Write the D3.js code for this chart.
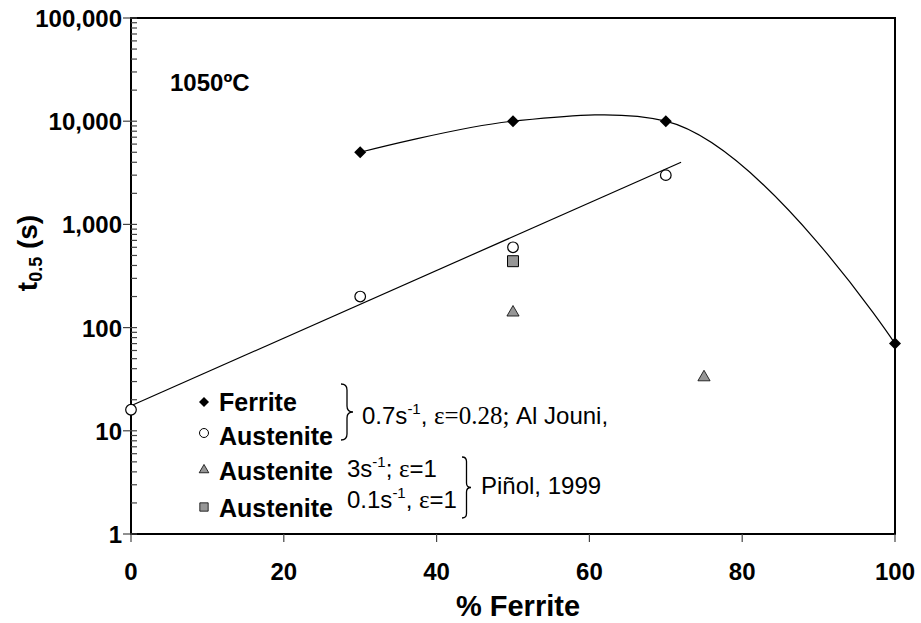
<!DOCTYPE html>
<html>
<head>
<meta charset="utf-8">
<script src="https://cdn.jsdelivr.net/npm/d3@7"></script>
<style>
  body { margin: 0; background: #fff; }
  text { font-family: "Liberation Sans", Arial, sans-serif; }
  tspan.serif { font-family: "Liberation Serif", "Times New Roman", serif; }
</style>
</head>
<body>
<script>
var width = 921,
  height = 623;

// data
var ferriteX = [30, 50, 70, 100];
var ferriteT = [5000, 10000, 10000, 70];
var austeniteX = [0, 30, 50, 70];
var austeniteT = [16, 200, 600, 3000];
var austeniteFitX = [0, 72];
var austeniteFitT = [17.5, 4000];
var pinolTriX = [50, 75];
var pinolTriT = [140, 33];
var pinolSqX = [50];
var pinolSqT = [440];

var xTicks = [0, 20, 40, 60, 80, 100];
var yTicks = [1, 10, 100, 1000, 10000, 100000];

var svg = d3.select("body").append("svg")
  .attr("width", width)
  .attr("height", height);

var x = d3.scaleLinear().domain([0, 100]).range([131, 895]);
var y = d3.scaleLog().domain([1, 100000]).range([534, 18]);

var zip = (xs, ys) => xs.map((v, i) => ({ x: v, t: ys[i] }));

// frame
svg.append("rect")
  .attr("x", x(0)).attr("y", y(100000))
  .attr("width", x(100) - x(0)).attr("height", y(1) - y(100000))
  .attr("fill", "none").attr("stroke", "#000").attr("stroke-width", 2);

// x axis ticks + labels
var xa = svg.append("g");
xa.selectAll("line").data(xTicks).enter().append("line")
  .attr("x1", d => x(d)).attr("x2", d => x(d))
  .attr("y1", y(1)).attr("y2", y(1) + 8)
  .attr("stroke", "#444").attr("stroke-width", 1.2);
xa.selectAll("text").data(xTicks).enter().append("text")
  .attr("x", d => x(d)).attr("y", 580)
  .attr("text-anchor", "middle")
  .attr("font-size", 24).attr("font-weight", "bold")
  .text(d => d);

// y axis ticks
var minor = [];
yTicks.slice(0, -1).forEach(d => { for (var k = 2; k < 10; k++) minor.push(d * k); });
var ya = svg.append("g");
ya.selectAll("line.minor").data(minor).enter().append("line")
  .attr("x1", x(0)).attr("x2", x(0) + 6)
  .attr("y1", d => y(d)).attr("y2", d => y(d))
  .attr("stroke", "#444").attr("stroke-width", 1.2);
ya.selectAll("line.major").data(yTicks).enter().append("line")
  .attr("x1", x(0) - 8).attr("x2", x(0) + 6)
  .attr("y1", d => y(d)).attr("y2", d => y(d))
  .attr("stroke", "#444").attr("stroke-width", 1.2);
ya.selectAll("text").data(yTicks).enter().append("text")
  .attr("x", 122).attr("y", d => y(d) + 9)
  .attr("text-anchor", "end")
  .attr("font-size", 24).attr("font-weight", "bold")
  .text(d => d3.format(",")(d));

// axis titles
svg.append("text")
  .attr("x", 518).attr("y", 616)
  .attr("text-anchor", "middle")
  .attr("font-size", 29).attr("font-weight", "bold")
  .text("% Ferrite");

var yt = svg.append("text")
  .attr("transform", "translate(37,253) rotate(-90)")
  .attr("text-anchor", "middle")
  .attr("font-size", 28).attr("font-weight", "bold");
yt.append("tspan").text("t");
yt.append("tspan").attr("font-size", 18).attr("dy", 5).text("0.5");
yt.append("tspan").attr("dy", -5).text(" (s)");

svg.append("text")
  .attr("x", 170).attr("y", 91)
  .attr("font-size", 24).attr("font-weight", "bold")
  .text("1050ºC");

// lines
var line = d3.line().x(d => x(d.x)).y(d => y(d.t));
svg.append("path")
  .datum(zip(austeniteFitX, austeniteFitT))
  .attr("d", line)
  .attr("fill", "none").attr("stroke", "#000").attr("stroke-width", 1.2);
svg.append("path")
  .datum(zip(ferriteX, ferriteT))
  .attr("d", line.curve(d3.curveCatmullRom.alpha(1)))
  .attr("fill", "none").attr("stroke", "#000").attr("stroke-width", 1.2);

// markers
var diamond = d3.symbol().type(d3.symbolSquare).size(72);
var tri = d3.symbol().type(d3.symbolTriangle).size(64);
var sq = d3.symbol().type(d3.symbolSquare).size(120);

svg.selectAll(".fer").data(zip(ferriteX, ferriteT)).enter().append("path")
  .attr("d", diamond)
  .attr("transform", d => `translate(${x(d.x)},${y(d.t)}) rotate(45)`)
  .attr("fill", "#000");
svg.selectAll(".aus").data(zip(austeniteX, austeniteT)).enter().append("circle")
  .attr("cx", d => x(d.x)).attr("cy", d => y(d.t)).attr("r", 5.3)
  .attr("fill", "#fff").attr("stroke", "#000").attr("stroke-width", 1.2);
svg.selectAll(".tri").data(zip(pinolTriX, pinolTriT)).enter().append("path")
  .attr("d", tri)
  .attr("transform", d => `translate(${x(d.x)},${y(d.t)})`)
  .attr("fill", "#969696").attr("stroke", "#000").attr("stroke-width", 0.8);
svg.selectAll(".sq").data(zip(pinolSqX, pinolSqT)).enter().append("path")
  .attr("d", sq)
  .attr("transform", d => `translate(${x(d.x)},${y(d.t)})`)
  .attr("fill", "#969696").attr("stroke", "#000").attr("stroke-width", 1);

// legend
var lg = svg.append("g");
lg.append("path").attr("d", d3.symbol().type(d3.symbolSquare).size(50))
  .attr("transform", "translate(204,402) rotate(45)").attr("fill", "#000");
lg.append("circle").attr("cx", 204).attr("cy", 433).attr("r", 4.5)
  .attr("fill", "#fff").attr("stroke", "#000").attr("stroke-width", 1);
lg.append("path").attr("d", d3.symbol().type(d3.symbolTriangle).size(40))
  .attr("transform", "translate(204,470)").attr("fill", "#969696").attr("stroke", "#000").attr("stroke-width", 0.8);
lg.append("path").attr("d", d3.symbol().type(d3.symbolSquare).size(70))
  .attr("transform", "translate(204,507)").attr("fill", "#969696").attr("stroke", "#000").attr("stroke-width", 0.8);

[["Ferrite", 411], ["Austenite", 445], ["Austenite", 480], ["Austenite", 517]].forEach(d => {
  lg.append("text").attr("x", 219).attr("y", d[1])
    .attr("font-size", 25).attr("font-weight", "bold").text(d[0]);
});

function brace(x0, y0, y1, w) {
  var ym = (y0 + y1) / 2, xm = x0 + w / 2, r = w / 2;
  return `M${x0},${y0} Q${xm},${y0} ${xm},${y0 + r} L${xm},${ym - r} Q${xm},${ym} ${x0 + w},${ym}` +
    ` Q${xm},${ym} ${xm},${ym + r} L${xm},${y1 - r} Q${xm},${y1} ${x0},${y1}`;
}
lg.append("path").attr("d", brace(341, 384, 440, 12))
  .attr("fill", "none").attr("stroke", "#000").attr("stroke-width", 1.3);
lg.append("path").attr("d", brace(462, 457, 518, 9))
  .attr("fill", "none").attr("stroke", "#000").attr("stroke-width", 1.3);

var t1 = lg.append("text").attr("x", 362).attr("y", 424).attr("font-size", 24);
t1.append("tspan").text("0.7s");
t1.append("tspan").attr("font-size", 15).attr("dy", -10).text("-1");
t1.append("tspan").attr("dy", 10).text(", ");
t1.append("tspan").attr("class", "serif").attr("font-size", 25).text("ε=0.28;");
t1.append("tspan").text(" Al Jouni,");

var t3 = lg.append("text").attr("x", 347).attr("y", 477).attr("font-size", 24);
t3.append("tspan").text("3s");
t3.append("tspan").attr("font-size", 15).attr("dy", -10).text("-1");
t3.append("tspan").attr("dy", 10).text("; ");
t3.append("tspan").attr("class", "serif").attr("font-size", 25).text("ε");
t3.append("tspan").text("=1");

var t4 = lg.append("text").attr("x", 347).attr("y", 508).attr("font-size", 24);
t4.append("tspan").text("0.1s");
t4.append("tspan").attr("font-size", 15).attr("dy", -10).text("-1");
t4.append("tspan").attr("dy", 10).text(", ");
t4.append("tspan").attr("class", "serif").attr("font-size", 25).text("ε");
t4.append("tspan").text("=1");

lg.append("text").attr("x", 481).attr("y", 494).attr("font-size", 24).text("Piñol, 1999");
</script>
</body>
</html>
